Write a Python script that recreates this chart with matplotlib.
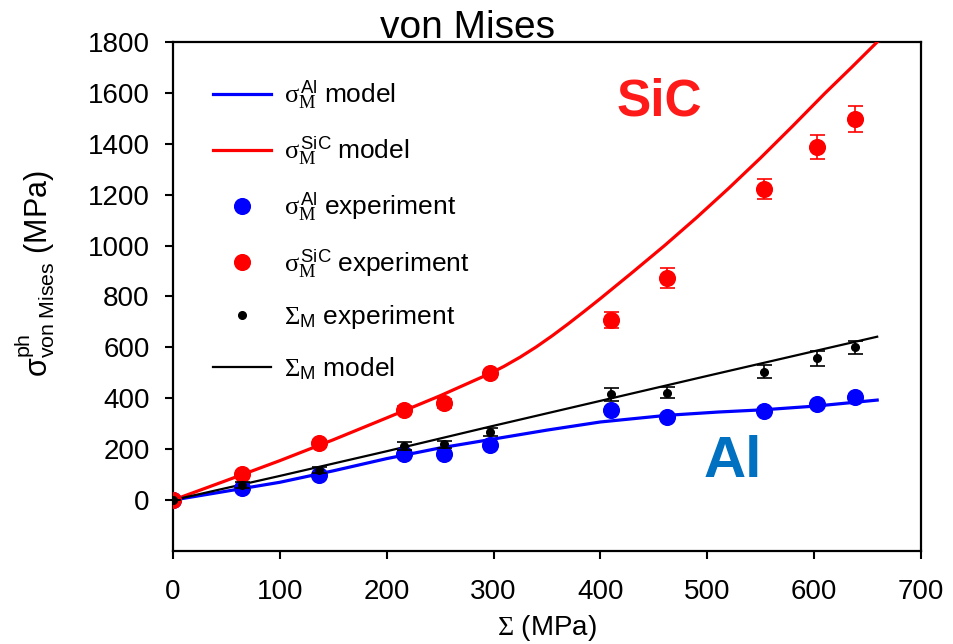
import matplotlib
matplotlib.use('Agg')
import matplotlib.pyplot as plt
from matplotlib.lines import Line2D

plt.rcParams['font.family'] = ['Liberation Sans', 'DejaVu Sans']
plt.rcParams['mathtext.fontset'] = 'custom'
plt.rcParams['mathtext.rm'] = 'Liberation Serif'
plt.rcParams['mathtext.it'] = 'Liberation Serif:italic'
plt.rcParams['mathtext.sf'] = 'Liberation Sans'

# experimental points (macro stress Sigma, MPa)
sigma_exp = [0, 65, 137, 216, 254, 297, 410, 462, 553, 603, 638]
sic_exp = [0, 101, 223, 354, 380, 498, 707, 873, 1221, 1388, 1497]
sic_err = [0, 12, 15, 15, 18, 15, 31, 39, 39, 47, 52]
al_exp = [0, 47, 98, 181, 183, 216, 354, 325, 351, 377, 406]
al_err = [0, 8, 8, 10, 10, 10, 12, 10, 10, 12, 12]
sum_exp = [0, 59, 120, 212, 219, 268, 416, 422, 504, 557, 600]
sum_err = [0, 12, 12, 15, 15, 15, 25, 22, 25, 29, 27]

# model curves
sic_x = [0, 50, 100, 150, 200, 250, 297, 310, 325, 340, 355, 370, 385, 400,
         430, 460, 490, 520, 550, 580, 610, 635, 659]
sic_model = [0, 77, 155, 237, 323, 410, 498, 526, 562, 602, 646, 693, 742, 792,
             895, 1000, 1110, 1225, 1345, 1470, 1598, 1700, 1800]
al_x = [0, 50, 100, 150, 200, 250, 300, 350, 400, 462, 510, 553, 603, 659]
al_model = [0, 35, 70, 115, 163, 205, 240, 275, 307, 333, 346, 355, 370, 393]
sum_x = [0, 100, 200, 300, 400, 500, 600, 659]
sum_model = [0, 95, 192, 292, 390, 488, 585, 642]

fig = plt.figure(figsize=(9.54, 6.44), dpi=100)
ax = fig.add_axes([0.1813, 0.1444, 0.7841, 0.7904])

ax.plot(sic_x, sic_model, color='#ff0000', lw=2.3, zorder=3)
ax.plot(al_x, al_model, color='#0000ff', lw=2.3, zorder=3)
ax.plot(sum_x, sum_model, color='black', lw=1.6, zorder=3)

ax.errorbar(sigma_exp, al_exp, yerr=al_err, fmt='o', color='#0000ff', ms=11.3,
            capsize=5.4, elinewidth=1.2, capthick=1.2, zorder=4)
ax.errorbar(sigma_exp, sic_exp, yerr=sic_err, fmt='o', color='#ff0000', ms=11.3,
            capsize=5.4, elinewidth=1.2, capthick=1.2, zorder=5)
ax.errorbar(sigma_exp, sum_exp, yerr=sum_err, fmt='o', color='black', ms=5.5,
            capsize=5.4, elinewidth=1.2, capthick=1.2, zorder=6)

ax.set_xlim(0, 700)
ax.set_ylim(-200, 1800)
ax.set_xticks(range(0, 701, 100))
ax.set_yticks(range(0, 1801, 200))
ax.tick_params(direction='out', length=5.8, width=1.5, labelsize=20)
ax.tick_params(axis='x', pad=14)
ax.tick_params(axis='y', pad=11)
for s in ax.spines.values():
    s.set_linewidth(1.6)

ax.set_xlabel(r'$\mathrm{\Sigma}$ (MPa)', fontsize=20, labelpad=6)
ax.set_ylabel(r'$\mathsf{\sigma}_{\mathsf{von\ Mises}}^{\mathsf{ph}}$ (MPa)', fontsize=22)
ax.yaxis.set_label_coords(-0.155, 0.545)
fig.text(0.49, 0.941, 'von Mises', fontsize=28, ha='center', va='baseline')

ax.text(455, 1564, 'SiC', color='#ff1a1a', fontsize=37, fontweight='bold',
        ha='center', va='center')
ax.text(524, 149, 'Al', color='#0070c0', fontsize=42, fontweight='bold',
        ha='center', va='center')

handles = [
    Line2D([], [], color='#0000ff', lw=2.3),
    Line2D([], [], color='#ff0000', lw=2.3),
    Line2D([], [], color='#0000ff', marker='o', ls='none', ms=11.3),
    Line2D([], [], color='#ff0000', marker='o', ls='none', ms=11.3),
    Line2D([], [], color='black', marker='o', ls='none', ms=5.5),
    Line2D([], [], color='black', lw=1.6),
]
labels = [
    r'$\mathrm{\sigma}_{\mathrm{M}}^{\,\mathsf{Al}}\ $model',
    r'$\mathrm{\sigma}_{\mathrm{M}}^{\,\mathsf{SiC}}\ $model',
    r'$\mathrm{\sigma}_{\mathrm{M}}^{\,\mathsf{Al}}\ $experiment',
    r'$\mathrm{\sigma}_{\mathrm{M}}^{\,\mathsf{SiC}}\ $experiment',
    r'$\mathrm{\Sigma}_{\mathsf{M}}$ experiment',
    r'$\mathrm{\Sigma}_{\mathsf{M}}$ model',
]
ax.legend(handles, labels, loc='upper left', bbox_to_anchor=(0.022, 0.975),
          frameon=False, fontsize=19, handlelength=2.2, labelspacing=0.9,
          handletextpad=0.5)

fig.savefig('out.png', dpi=100)
